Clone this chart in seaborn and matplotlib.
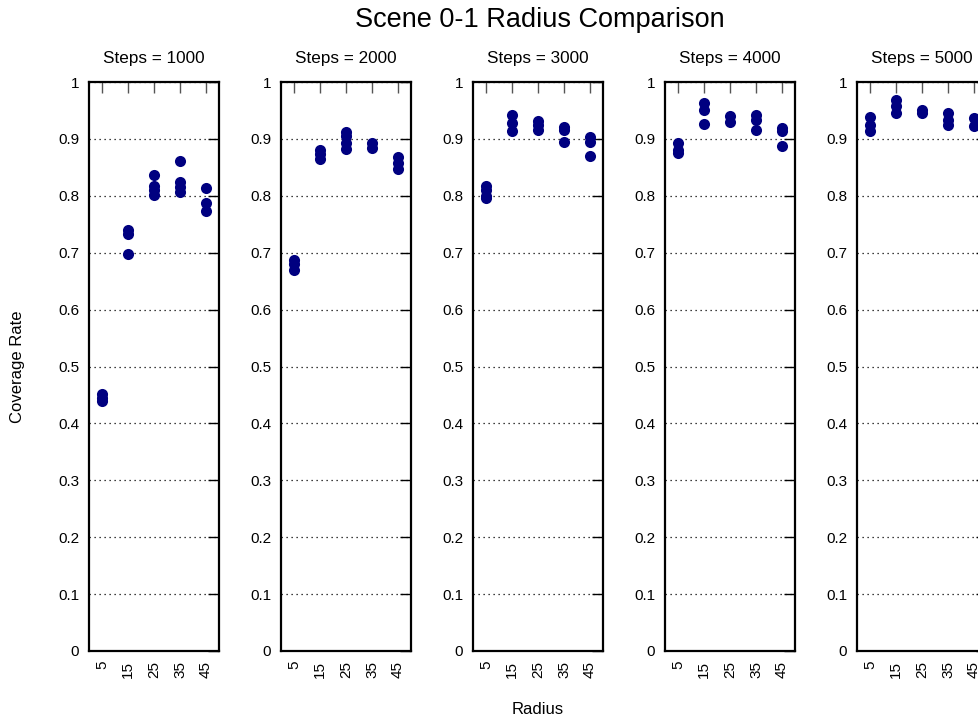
import pandas as pd
import matplotlib
matplotlib.use("Agg")
import matplotlib.pyplot as plt
import seaborn as sns

# --- datos ---
steps = [1000, 2000, 3000, 4000, 5000]
radius = [5, 15, 25, 35, 45]

# valores de cobertura por radio (una lista por cada panel)
rate_1000 = [[0.452, 0.445, 0.440],
             [0.740, 0.732, 0.698],
             [0.837, 0.818, 0.810, 0.801],
             [0.862, 0.825, 0.815, 0.806],
             [0.813, 0.788, 0.774]]
rate_2000 = [[0.688, 0.680, 0.670],
             [0.881, 0.874, 0.864],
             [0.913, 0.905, 0.892, 0.882],
             [0.893, 0.884],
             [0.869, 0.858, 0.847]]
rate_3000 = [[0.818, 0.810, 0.800, 0.797],
             [0.942, 0.928, 0.914],
             [0.932, 0.925, 0.916],
             [0.921, 0.916, 0.895],
             [0.904, 0.895, 0.870]]
rate_4000 = [[0.892, 0.881, 0.875],
             [0.963, 0.951, 0.927],
             [0.940, 0.930],
             [0.942, 0.933, 0.916],
             [0.920, 0.914, 0.887]]
rate_5000 = [[0.939, 0.924, 0.914],
             [0.968, 0.957, 0.945],
             [0.951, 0.946],
             [0.945, 0.933, 0.925],
             [0.937, 0.922]]

todas = [rate_1000, rate_2000, rate_3000, rate_4000, rate_5000]

filas = []
for s, tabla in zip(steps, todas):
    for r, valores in zip(radius, tabla):
        for v in valores:
            filas.append({"Steps": s, "Radius": str(r), "Rate": v})
df = pd.DataFrame(filas)

# --- estilo ---
sns.set_style("white")
plt.rcParams['font.family'] = ['Liberation Sans', 'DejaVu Sans']
plt.rcParams['text.color'] = 'black'

fig = plt.figure(figsize=(9.79, 7.18), dpi=100)

left0 = 89 / 979
ancho = 130 / 979
paso = 192 / 979
abajo = 1 - 651 / 718
alto = 569 / 718

orden = [str(r) for r in radius]

for i, s in enumerate(steps):
    ax = fig.add_axes([left0 + i * paso, abajo, ancho, alto])
    sns.stripplot(data=df[df["Steps"] == s], x="Radius", y="Rate", order=orden,
                  jitter=False, color="navy", size=8, linewidth=0, ax=ax, zorder=3)
    ax.set_xlim(-0.5, 4.5)
    ax.set_ylim(0, 1)
    ax.set_yticks([k / 10 for k in range(11)])
    ax.set_yticklabels(["0", "0.1", "0.2", "0.3", "0.4", "0.5", "0.6", "0.7", "0.8", "0.9", "1"])
    ax.yaxis.grid(True, linestyle=(0, (1, 3)), color="black", linewidth=0.9)
    ax.xaxis.grid(False)
    ax.tick_params(axis="both", direction="in", top=True, right=True, length=8,
                   width=1, labelsize=11, colors="black", pad=7)
    ax.tick_params(axis="x", labelrotation=90, color="#555555")
    for sp in ax.spines.values():
        sp.set_linewidth(1.6)
        sp.set_color("black")
    ax.set_xlabel("")
    ax.set_ylabel("")
    ax.set_title(f"Steps = {s}", fontsize=12.3, pad=14, color="black")

fig.text(540 / 979, 1 - 20 / 718, "Scene 0-1 Radius Comparison", ha="center", va="center", fontsize=19.5)
fig.text(538 / 979, 1 - 709 / 718, "Radius", ha="center", va="center", fontsize=12)
fig.text(18 / 979, 1 - 367 / 718, "Coverage Rate", ha="center", va="center", rotation=90, fontsize=12)

plt.savefig("out.png", dpi=100)
